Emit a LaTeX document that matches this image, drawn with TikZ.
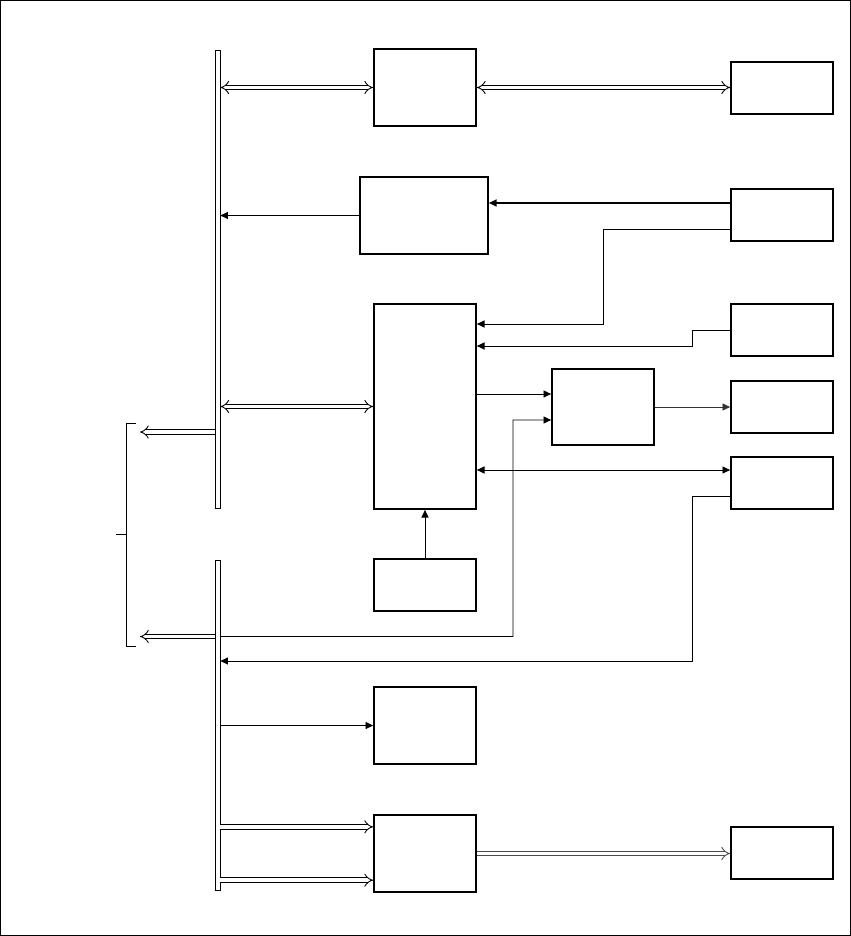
\documentclass[tikz,border=0pt]{standalone}
\usepackage{tikz}
\usetikzlibrary{arrows.meta, positioning, calc}

\begin{document}
\begin{tikzpicture}[
  x=0.03cm, y=-0.03cm,
  blk/.style={draw, line width=1.5pt, inner sep=0pt, minimum width=3.06cm, minimum height=2.31cm},
  dev/.style={draw, line width=1.5pt, inner sep=0pt, minimum width=3.06cm, minimum height=1.56cm},
  bus/.style={draw, line width=0.6pt, inner sep=0pt, minimum width=0.15cm},
  sig/.style={line width=0.8pt, -{Triangle[length=6.5pt, width=6pt]}},
  wide/.style={double, double distance=3.2pt, line width=0.75pt, -{Implies[scale=1.3]}},
  both/.style={{Implies[scale=1.3]}-{Implies[scale=1.3]}}
]

%% Frame
\useasboundingbox (0,0) rectangle (851,936);
\draw[line width=1.2pt] (0.7,0.7) rectangle (850.3,935.3);

%% ---- Buses ----
\node[bus, minimum height=13.74cm] (busA) at (217.5,279) {};
\node[bus, minimum height=9.9cm]  (busB) at (217.5,725) {};

%% ---- Blocks ----
\node[blk] (boxA) at (425,87.5) {};
\node[blk, minimum width=3.84cm] (boxB) at (424,215.5) {};
\node[blk, minimum height=6.15cm] (ctrl) at (425,406.5) {};
\node[blk, minimum height=2.28cm] (boxD) at (603,407) {};
\node[dev] (boxE) at (425,585) {};
\node[blk] (boxF) at (425,725.5) {};
\node[blk] (boxG) at (425,853.5) {};

%% ---- Peripherals ----
\foreach \n/\y in {1/88, 2/215, 3/330, 4/407, 5/483, 6/853}
  \node[dev] (dev\n) at (782,\y) {};

%% ---- Taps and bend points ----
\coordinate (tapA) at (140,432);
\coordinate (tapB) at (140,636.5);
\coordinate (k1) at (603,324);
\coordinate (k2) at (692,346);
\coordinate (k3) at (513,420);
\coordinate (k4) at (692,661);
\coordinate (p4) at ([yshift=0.36cm]dev2.west);
\coordinate (p5) at ([yshift=-0.42cm]dev2.west);
\coordinate (p8) at ([yshift=0.39cm]boxD.west);
\coordinate (p9) at ([yshift=-0.39cm]boxD.west);
\coordinate (p11) at ([yshift=0.39cm]dev5.west);
\coordinate (p12) at ([yshift=-0.39cm]dev5.west);
\coordinate (g1) at ([yshift=0.8cm]boxG.west);
\coordinate (g2) at ([yshift=-0.8cm]boxG.west);

%% ---- Wide links ----
\draw[wide, both] (boxA.west -| busA.east) -- (boxA.west);
\draw[wide, both] (boxA.east) -- (boxA.east -| dev1.west);
\draw[wide, both] (ctrl.west -| busA.east) -- (ctrl.west);
\draw[wide] (tapA -| busA.west) -- (tapA);
\draw[wide] (tapB -| busB.west) -- (tapB);
\draw[wide] (g1 -| busB.east) -- (g1);
\draw[wide] (g2 -| busB.east) -- (g2);
\draw[wide, black!70] (boxG.east) -- (boxG.east -| dev6.west);

%% ---- Signal lines ----
\draw[sig] (boxB.west) -- (boxB.west -| busA.east);
\draw[sig, line width=1.2pt] (p4) -- (p4 -| boxB.east);
\draw[sig] (p5) -| (k1) -- (k1 -| ctrl.east);
\draw[sig] (dev3.west) -| (k2) -- (k2 -| ctrl.east);
\draw[sig] (p8 -| ctrl.east) -- (p8);
\draw[sig] (tapB -| busB.east) -| (k3) -- (p9);
\draw[sig, black!80] (boxD.east) -- (boxD.east -| dev4.west);
\draw[sig, {Triangle[length=6.5pt, width=6pt]}-{Triangle[length=6.5pt, width=6pt]}]
  (p11 -| ctrl.east) -- (p11);
\draw[sig] (p12) -| (k4) -- (k4 -| busB.east);
\draw[sig] (boxE.north) -- (ctrl.south);
\draw[sig] (boxF.west -| busB.east) -- (boxF.west);

%% ---- Bracket ----
\draw[line width=0.7pt] (136,423) -- (126,423) -- (126,646) -- (136,646);
\draw[line width=0.7pt] (116,534) -- (126,534);

\end{tikzpicture}
\end{document}
